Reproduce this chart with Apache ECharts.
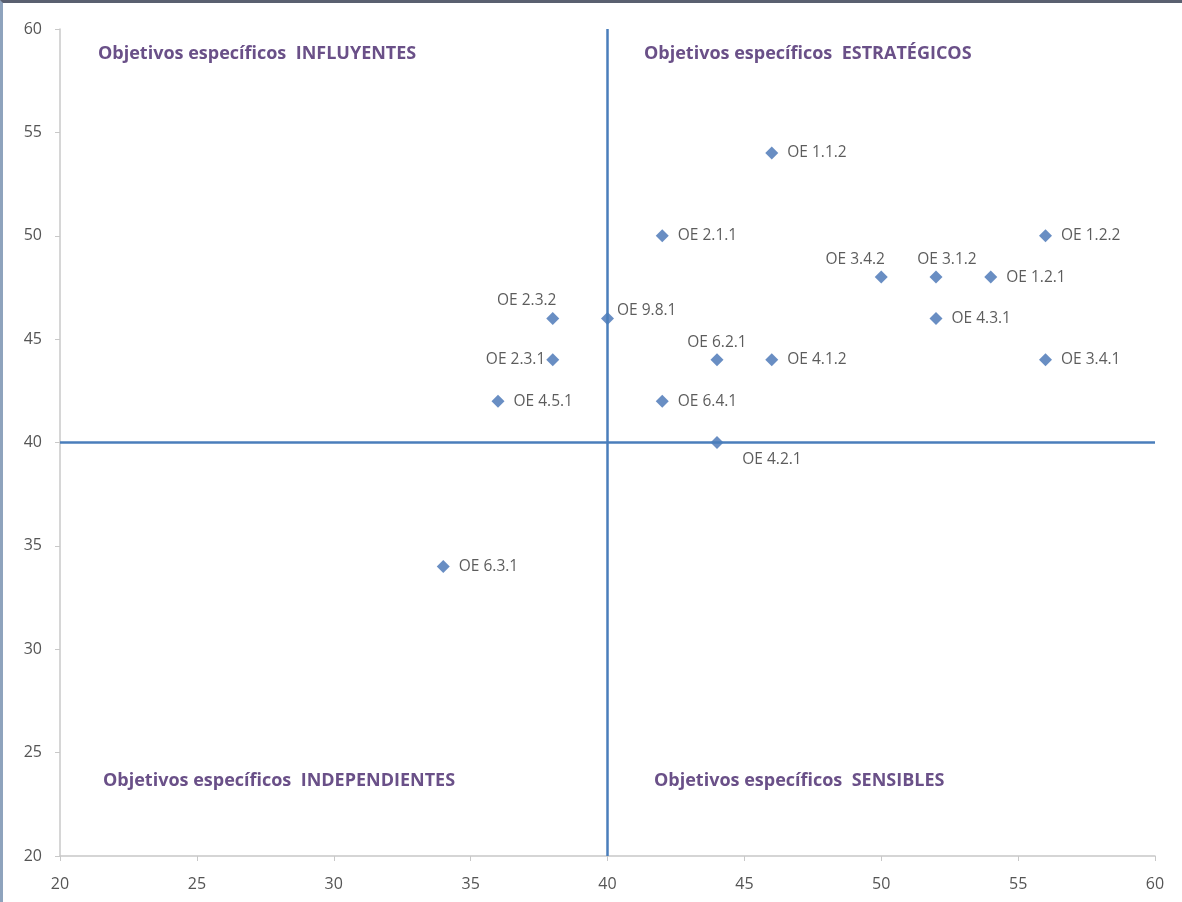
<!DOCTYPE html>
<html><head><meta charset="utf-8">
<script src="https://cdn.jsdelivr.net/npm/echarts@6/dist/echarts.min.js"></script>
<style>
html,body{margin:0;padding:0;background:#fff;}
#c{width:1182px;height:902px;box-sizing:border-box;border-left:3px solid #8ea3bd;border-top:3px solid #5a6070;}
</style></head>
<body><div id="c"></div>
<script>
const names = ['OE 1.1.2','OE 2.1.1','OE 1.2.2','OE 3.4.2','OE 3.1.2','OE 1.2.1','OE 4.3.1','OE 2.3.2','OE 9.8.1','OE 6.2.1','OE 4.1.2','OE 3.4.1','OE 2.3.1','OE 4.5.1','OE 6.4.1','OE 4.2.1','OE 6.3.1'];
const xValues = [46,42,56,50,52,54,52,38,40,44,46,56,38,36,42,44,34];
const yValues = [54,50,50,48,48,48,46,46,46,44,44,44,44,42,42,40,34];
const labelPlacement = ['right','right','right','topleft','topright','right','right','topleft','rightup','top','right','right','left','right','right','bottomright','right'];
const quadrantTitles = ['Objetivos específicos  INFLUYENTES','Objetivos específicos  ESTRATÉGICOS','Objetivos específicos  INDEPENDIENTES','Objetivos específicos  SENSIBLES'];
const axisMin = 20, axisMax = 60, axisStep = 5, splitValue = 40;

const chart = echarts.init(document.getElementById('c'));
const blue = '#4472b4';
const FF = '"Open Sans", "Liberation Sans", sans-serif';
function labelFor(p){
  const base = {show:true, color:'#333', fontSize:15.5, fontFamily:FF, formatter: '{b}'};
  switch(p){
    case 'right': return Object.assign(base,{position:'right', distance:9});
    case 'left': return Object.assign(base,{position:'left', distance:1});
    case 'top': return Object.assign(base,{position:'top', distance:3});
    case 'topleft': return Object.assign(base,{position:'top', distance:3, offset:[-26,0]});
    case 'topright': return Object.assign(base,{position:'top', distance:3, offset:[11,0]});
    case 'rightup': return Object.assign(base,{position:'right', distance:3, offset:[0,-8]});
    case 'bottomright': return Object.assign(base,{position:'bottom', distance:3, offset:[55,0]});
  }
}
const data = names.map((n,i)=>({name:n, value:[xValues[i], yValues[i]], label: labelFor(labelPlacement[i])}));
const titleStyle = {fill:'#6a5088', font:'bold 18px ' + FF};
chart.setOption({
  animation:false,
  grid:{left:57, right:27, top:26, bottom:46, containLabel:false},
  xAxis:{type:'value', min:axisMin, max:axisMax, interval:axisStep,
    axisLine:{show:true, onZero:false, lineStyle:{color:'#c8c8c8', width:1.5}},
    axisTick:{show:true, length:5, lineStyle:{color:'#c8c8c8'}},
    splitLine:{show:false},
    axisLabel:{color:'#555', fontSize:16, margin:20, fontFamily:FF}},
  yAxis:{type:'value', min:axisMin, max:axisMax, interval:axisStep,
    axisLine:{show:true, onZero:false, lineStyle:{color:'#c8c8c8', width:1.5}},
    axisTick:{show:true, length:5, lineStyle:{color:'#c8c8c8'}},
    splitLine:{show:false},
    axisLabel:{color:'#555', fontSize:16, margin:18, fontFamily:FF}},
  graphic:[
    {type:'text', left:95, top:42, style:Object.assign({text:quadrantTitles[0]}, titleStyle)},
    {type:'text', left:641, top:42, style:Object.assign({text:quadrantTitles[1]}, titleStyle)},
    {type:'text', left:100, top:769, style:Object.assign({text:quadrantTitles[2]}, titleStyle)},
    {type:'text', left:651, top:769, style:Object.assign({text:quadrantTitles[3]}, titleStyle)}
  ],
  series:[{
    type:'scatter', symbol:'diamond', symbolSize:13,
    itemStyle:{color:blue},
    data:data,
    markLine:{silent:true, symbol:['none','none'], label:{show:false},
      lineStyle:{color:'#4a7ebb', width:2.5, type:'solid'},
      data:[{xAxis:splitValue},{yAxis:splitValue}]},
    z:3
  }]
});
</script></body></html>
